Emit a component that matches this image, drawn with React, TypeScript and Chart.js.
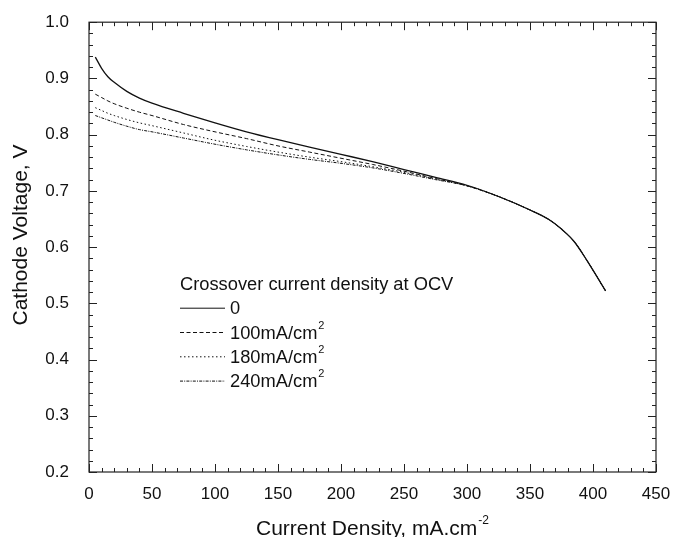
import React, { useEffect, useRef } from "react";
import { Chart, registerables } from "chart.js";

Chart.register(...registerables);

const currentDensity = [5, 10, 15, 20, 30, 40, 50, 75, 100, 125, 150, 175, 200, 225, 250, 275, 300, 325, 350, 365, 375, 385, 395, 403, 410];
const v0 = [0.938, 0.918, 0.903, 0.893, 0.877, 0.865, 0.856, 0.838, 0.821, 0.805, 0.791, 0.778, 0.765, 0.752, 0.738, 0.724, 0.710, 0.690, 0.666, 0.649, 0.632, 0.610, 0.577, 0.548, 0.522];
const v100 = [0.872, 0.866, 0.860, 0.855, 0.847, 0.840, 0.834, 0.818, 0.805, 0.793, 0.780, 0.769, 0.758, 0.747, 0.735, 0.722, 0.709, 0.690, 0.666, 0.649, 0.632, 0.610, 0.577, 0.548, 0.522];
const v180 = [0.848, 0.843, 0.838, 0.834, 0.827, 0.821, 0.816, 0.803, 0.790, 0.779, 0.769, 0.760, 0.752, 0.743, 0.733, 0.721, 0.709, 0.690, 0.666, 0.649, 0.632, 0.610, 0.577, 0.548, 0.522];
const v240 = [0.834, 0.830, 0.826, 0.822, 0.815, 0.809, 0.805, 0.794, 0.783, 0.773, 0.764, 0.756, 0.749, 0.741, 0.731, 0.720, 0.709, 0.690, 0.666, 0.649, 0.632, 0.610, 0.577, 0.548, 0.522];

const legendTitle = "Crossover current density at OCV";
const seriesLabels = ["0", "100mA/cm", "180mA/cm", "240mA/cm"];
const seriesSup = ["", "2", "2", "2"];
const seriesDash: number[][] = [[], [4, 2.5], [1.5, 2.5], [3, 1.2, 1, 1.2]];
const xTitle = "Current Density, mA.cm";
const xTitleSup = "-2";
const yTitle = "Cathode Voltage, V";

const FONT = "'Liberation Sans', Arial, Helvetica, sans-serif";

const decorPlugin = {
  id: "decor",
  afterDraw(chart: any) {
    const { ctx, chartArea, scales } = chart;
    const { left, right, top, bottom } = chartArea;
    const xs = scales.x;
    const ys = scales.y;
    ctx.save();
    ctx.strokeStyle = "#222";
    ctx.lineWidth = 1.2;
    ctx.setLineDash([]);
    ctx.strokeRect(left, top, right - left, bottom - top);
    ctx.lineWidth = 1;
    for (let v = 0; v <= 450; v += 10) {
      const p = Math.round(xs.getPixelForValue(v)) + 0.5;
      const len = v % 50 === 0 ? 8 : 4;
      ctx.beginPath();
      ctx.moveTo(p, bottom);
      ctx.lineTo(p, bottom - len);
      ctx.moveTo(p, top);
      ctx.lineTo(p, top + len);
      ctx.stroke();
    }
    for (let i = 0; i <= 40; i++) {
      const v = 0.2 + i * 0.02;
      const p = Math.round(ys.getPixelForValue(v)) + 0.5;
      const len = i % 5 === 0 ? 8 : 4;
      ctx.beginPath();
      ctx.moveTo(left, p);
      ctx.lineTo(left + len, p);
      ctx.moveTo(right, p);
      ctx.lineTo(right - len, p);
      ctx.stroke();
    }

    // Legend
    ctx.fillStyle = "#111";
    ctx.textBaseline = "middle";
    ctx.textAlign = "left";
    const lx = left + 91;
    ctx.font = `18.3px ${FONT}`;
    ctx.fillText(legendTitle, lx, top + 263);
    seriesLabels.forEach((lab, i) => {
      const yy = top + 286 + i * 24.3;
      ctx.strokeStyle = "#111";
      ctx.lineWidth = 1;
      ctx.setLineDash(seriesDash[i]);
      ctx.beginPath();
      ctx.moveTo(lx, yy);
      ctx.lineTo(lx + 45, yy);
      ctx.stroke();
      ctx.setLineDash([]);
      ctx.font = `18.3px ${FONT}`;
      ctx.fillText(lab, lx + 50, yy + 1);
      if (seriesSup[i]) {
        const w = ctx.measureText(lab).width;
        ctx.font = `11px ${FONT}`;
        ctx.fillText(seriesSup[i], lx + 51 + w, yy - 7);
      }
    });

    // X title
    ctx.font = `21px ${FONT}`;
    ctx.textBaseline = "alphabetic";
    const w1 = ctx.measureText(xTitle).width;
    ctx.font = `12px ${FONT}`;
    const w2 = ctx.measureText(xTitleSup).width;
    const cx = (left + right) / 2;
    const sx = cx - (w1 + w2 + 1) / 2;
    ctx.font = `21px ${FONT}`;
    ctx.fillText(xTitle, sx, 535);
    ctx.font = `12px ${FONT}`;
    ctx.fillText(xTitleSup, sx + w1 + 1, 524);

    // Y title
    ctx.save();
    ctx.translate(21, 235);
    ctx.rotate(-Math.PI / 2);
    ctx.font = `21px ${FONT}`;
    ctx.textAlign = "center";
    ctx.textBaseline = "middle";
    ctx.fillText(yTitle, 0, 0);
    ctx.restore();

    ctx.restore();
  },
};

export default function App() {
  const ref = useRef<HTMLCanvasElement | null>(null);
  useEffect(() => {
    if (!ref.current) return;
    const mk = (vals: number[], dash: number[], width: number) => ({
      data: currentDensity.map((x, i) => ({ x, y: vals[i] })),
      borderColor: "#111",
      borderWidth: width,
      borderDash: dash,
      pointRadius: 0,
      fill: false,
      cubicInterpolationMode: "monotone" as const,
    });
    const chart = new Chart(ref.current, {
      type: "line",
      data: {
        datasets: [
          mk(v240, seriesDash[3], 1),
          mk(v180, seriesDash[2], 1),
          mk(v100, seriesDash[1], 1),
          mk(v0, seriesDash[0], 1.3),
        ],
      },
      options: {
        animation: false,
        responsive: true,
        maintainAspectRatio: false,
        layout: { padding: { left: 0, top: 22, right: 19, bottom: 0 } },
        plugins: { legend: { display: false }, tooltip: { enabled: false } },
        scales: {
          x: {
            type: "linear",
            min: 0,
            max: 450,
            grid: { display: false },
            border: { display: false },
            ticks: {
              stepSize: 50,
              padding: 4,
              color: "#111",
              font: { family: FONT, size: 17 },
              maxRotation: 0,
            },
            afterFit: (s: any) => {
              s.height = 65;
            },
          },
          y: {
            min: 0.2,
            max: 1.0,
            grid: { display: false },
            border: { display: false },
            ticks: {
              stepSize: 0.1,
              padding: 12,
              color: "#111",
              font: { family: FONT, size: 17 },
              callback: (v: any) => Number(v).toFixed(1),
            },
            afterFit: (s: any) => {
              s.width = 89;
            },
          },
        },
      },
      plugins: [decorPlugin],
    });
    return () => chart.destroy();
  }, []);
  return (
    <div style={{ position: "absolute", left: 0, top: 0, width: 675, height: 537, background: "#fff" }}>
      <canvas ref={ref} />
    </div>
  );
}
